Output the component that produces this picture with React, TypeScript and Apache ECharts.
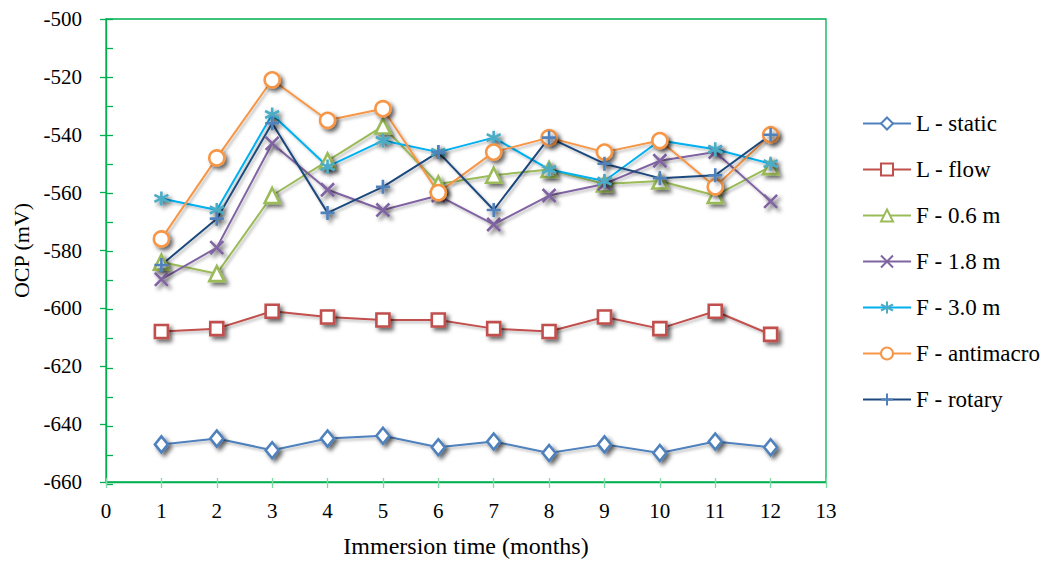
import React, { useEffect, useRef } from "react";
import * as echarts from "echarts";

const months = [1, 2, 3, 4, 5, 6, 7, 8, 9, 10, 11, 12];
const yTicks = [-660, -640, -620, -600, -580, -560, -540, -520, -500];

const lStatic = [-647, -645, -649, -645, -644, -648, -646, -650, -647, -650, -646, -648];
const lFlow = [-608, -607, -601, -603, -604, -604, -607, -608, -603, -607, -601, -609];
const f06 = [-584, -588, -561, -549, -537, -557, -554, -552, -557, -556, -561, -551];
const f18 = [-590, -579, -543, -559, -566, -561, -571, -561, -557, -549, -546, -563];
const f30 = [-562, -566, -533, -551, -542, -546, -541, -552, -556, -542, -545, -550];
const fAnti = [-576, -548, -521, -535, -531, -560, -546, -541, -546, -542, -558, -540];
const fRot = [-585, -569, -536, -567, -558, -546, -566, -541, -550, -555, -554, -540];

const FONT = "Liberation Serif";
const GREEN = "#00B050";

const seriesDefs = [
  { name: "L - static", data: lStatic, line: "#4F81BD", mark: "#4F81BD", symbol: "diamond", size: [13, 16], fill: "#fff" },
  { name: "L - flow", data: lFlow, line: "#C0504D", mark: "#C0504D", symbol: "rect", size: 13, fill: "#fff" },
  { name: "F - 0.6 m", data: f06, line: "#9BBB59", mark: "#9BBB59", symbol: "triangle", size: 15, fill: "#fff" },
  { name: "F - 1.8 m", data: f18, line: "#8064A2", mark: "#8064A2", symbol: "path://M0,0L10,10M10,0L0,10", size: 13, fill: "none" },
  { name: "F - 3.0 m", data: f30, line: "#00B0F0", mark: "#4BACC6", symbol: "path://M5,0L5,10M0.67,2.5L9.33,7.5M9.33,2.5L0.67,7.5", size: 14, fill: "none" },
  { name: "F - antimacro", data: fAnti, line: "#F79646", mark: "#F79646", symbol: "circle", size: 15, fill: "#fff" },
  { name: "F - rotary", data: fRot, line: "#1F497D", mark: "#4F81BD", symbol: "path://M5,0L5,10M0,5L10,5", size: 14, fill: "none" },
];

export default function App() {
  const ref = useRef<HTMLDivElement>(null);
  useEffect(() => {
    if (!ref.current) return;
    const chart = echarts.init(ref.current, null, { renderer: "svg" });
    const rect = { left: 106, right: 223, top: 19, bottom: 79 };
    const series = seriesDefs.map((s) => ({
      name: s.name,
      type: "line",
      xAxisIndex: 0,
      yAxisIndex: 0,
      data: months.map((m, i) => [m, s.data[i]]),
      symbol: s.symbol,
      symbolSize: s.size,
      showAllSymbol: true,
      lineStyle: {
        color: s.line,
        width: 2,
        shadowBlur: 3,
        shadowColor: "rgba(0,0,0,0.3)",
        shadowOffsetX: 2,
        shadowOffsetY: 2,
      },
      itemStyle: {
        color: s.fill === "none" ? s.mark : s.fill,
        borderColor: s.mark,
        borderWidth: 2.6,
        shadowBlur: 4,
        shadowColor: "rgba(0,0,0,0.6)",
        shadowOffsetX: 3,
        shadowOffsetY: 3,
      },
      emphasis: { disabled: true },
    }));
    chart.setOption({
      animation: false,
      backgroundColor: "#fff",
      grid: [
        { ...rect, show: true, borderColor: GREEN, borderWidth: 1.3, backgroundColor: "transparent" },
        { ...rect },
      ],
      xAxis: [
        {
          type: "value",
          gridIndex: 0,
          min: 0,
          max: 13,
          interval: 1,
          name: "Immersion time (months)",
          nameLocation: "middle",
          nameGap: 52,
          nameTextStyle: { fontFamily: FONT, fontSize: 24, color: "#000" },
          axisLine: { show: true, lineStyle: { color: GREEN, width: 1.3 } },
          axisTick: { show: true, inside: false, length: 6, lineStyle: { color: "#7fd9a3", width: 1.3 } },
          axisLabel: { fontFamily: FONT, fontSize: 21, color: "#000", margin: 18 },
          splitLine: { show: false },
        },
        {
          type: "value",
          gridIndex: 1,
          min: 0,
          max: 13,
          interval: 1,
          axisLine: { show: false },
          axisTick: { show: true, inside: true, length: 6, lineStyle: { color: "#7fd9a3", width: 1.3 } },
          axisLabel: { show: false },
          splitLine: { show: false },
        },
      ],
      yAxis: [
        {
          type: "value",
          gridIndex: 0,
          min: yTicks[0],
          max: yTicks[yTicks.length - 1],
          interval: 20,
          name: "OCP (mV)",
          nameLocation: "middle",
          nameRotate: 90,
          nameGap: 73,
          nameTextStyle: { fontFamily: FONT, fontSize: 22, color: "#000" },
          axisLine: { show: true, lineStyle: { color: GREEN, width: 1.3 } },
          axisTick: { show: true, inside: false, length: 6, lineStyle: { color: GREEN, width: 1.3 } },
          axisLabel: { fontFamily: FONT, fontSize: 21, color: "#000", margin: 24 },
          splitLine: { show: false },
        },
        {
          type: "value",
          gridIndex: 1,
          min: yTicks[0],
          max: yTicks[yTicks.length - 1],
          interval: 10,
          axisLine: { show: false },
          axisTick: { show: true, inside: true, length: 7, lineStyle: { color: GREEN, width: 1.3 } },
          axisLabel: { show: false },
          splitLine: { show: false },
        },
      ],
      legend: {
        orient: "vertical",
        left: 862,
        top: 112,
        padding: 0,
        itemWidth: 48,
        itemHeight: 15,
        itemGap: 23,
        textStyle: { fontFamily: FONT, fontSize: 23, color: "#000" },
        itemStyle: { shadowBlur: 0, shadowColor: "transparent", shadowOffsetX: 0, shadowOffsetY: 0 },
        lineStyle: { shadowBlur: 0, shadowColor: "transparent", shadowOffsetX: 0, shadowOffsetY: 0 },
        selectedMode: false,
      },
      series,
    });
    return () => chart.dispose();
  }, []);
  return <div ref={ref} style={{ position: "absolute", left: 0, top: 0, width: 1049, height: 563 }} />;
}
